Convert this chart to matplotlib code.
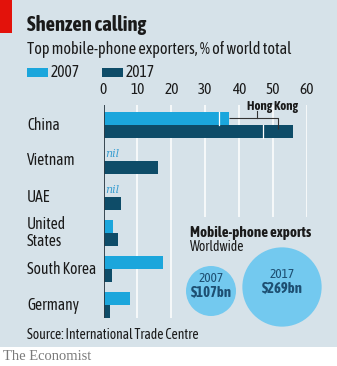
import matplotlib
matplotlib.use("Agg")
import matplotlib.pyplot as plt
from matplotlib.patches import Rectangle, Circle
import numpy as np

# Data: share of world mobile-phone exports, %
countries = ["China", "Vietnam", "UAE", "United\nStates", "South Korea", "Germany"]
share_2007 = [34, 0, 0, 2.8, 17.5, 7.8]
share_2017 = [47, 16, 5.2, 4.3, 2.5, 1.9]
hong_kong_2007 = 3
hong_kong_2017 = 9
nil_rows = ["Vietnam", "UAE"]
x_ticks = [0, 10, 20, 30, 40, 50, 60]
world_exports_years = ["2007", "2017"]
world_exports_bn = [107, 269]

W, H = 337, 366
BG = "#d6e2e9"
LIGHT = "#1ba6dc"
DARK = "#0e4c68"
BUBBLE = "#73c9ef"
TXT = "#1a1a1a"
plt.rcParams["font.family"] = ["Asap Condensed", "Lato", "DejaVu Sans"]

fig = plt.figure(figsize=(W / 100, H / 100), dpi=100)
fig.patch.set_facecolor("white")


def fx(x):
    return x / W


def fy(y):
    return 1 - y / H


# panel background and red tag
fig.patches.append(Rectangle((0, fy(347)), 1, 1 - fy(347), transform=fig.transFigure,
                             facecolor=BG, edgecolor="none", zorder=-10))
fig.patches.append(Rectangle((0, fy(33)), fx(12), 1 - fy(33), transform=fig.transFigure,
                             facecolor="#e3120b", edgecolor="none", zorder=-5))

fig.text(fx(27), fy(25), "Shenzen calling", fontsize=14.8, fontweight="bold",
         color=TXT, va="center", ha="left")
fig.text(fx(27), fy(50), "Top mobile-phone exporters, % of world total", fontsize=11.6,
         color=TXT, va="center", ha="left")

# legend
fig.patches.append(Rectangle((fx(27), fy(77)), fx(21), fy(68) - fy(77), transform=fig.transFigure,
                             facecolor=LIGHT, edgecolor="none", zorder=-5))
fig.text(fx(51), fy(72.5), "2007", fontsize=11.2, color=TXT, va="center", ha="left")
fig.patches.append(Rectangle((fx(102), fy(77)), fx(21), fy(68) - fy(77), transform=fig.transFigure,
                             facecolor=DARK, edgecolor="none", zorder=-5))
fig.text(fx(126), fy(72.5), "2017", fontsize=11.2, color=TXT, va="center", ha="left")

# main bar chart
ax_l, ax_r, ax_t, ax_b = 103.5, 307, 105, 318
ax = fig.add_axes([fx(ax_l), fy(ax_b), fx(ax_r - ax_l), fy(ax_t) - fy(ax_b)])
ax.set_facecolor("none")
row_px = 36.0
first_center = 125.0
ax.set_xlim(0, 60)
ax.set_ylim((ax_b - first_center) / row_px, (ax_t - first_center) / row_px)

y = np.arange(len(countries))
bh = 13 / row_px
off = bh / 2

for xt in x_ticks[1:]:
    ax.axvline(xt, color="white", lw=1.1, zorder=1)

ax.barh(y - off, share_2007, height=bh, color=LIGHT, zorder=2)
ax.barh(y + off, share_2017, height=bh, color=DARK, zorder=2)
# Hong Kong stacked on China, split by a thin white line
ax.barh(y[0] - off, hong_kong_2007, left=share_2007[0], height=bh, color=LIGHT, zorder=2)
ax.barh(y[0] + off, hong_kong_2017, left=share_2017[0], height=bh, color=DARK, zorder=2)
ax.plot([share_2007[0]] * 2, [-off - bh / 2, -off + bh / 2], color="white", lw=0.9, zorder=3)
ax.plot([share_2017[0]] * 2, [off - bh / 2, off + bh / 2], color="white", lw=0.9, zorder=3)

ax.axvline(0, color="#2b3a44", lw=1.3, zorder=4)

# Hong Kong bracket
hk_end_2007 = share_2007[0] + hong_kong_2007
hk_mid_2017 = share_2017[0] + hong_kong_2017 / 2
ax.plot([hk_end_2007, hk_mid_2017, hk_mid_2017], [-off, -off, 0.1],
        color="#333333", lw=0.8, zorder=5, solid_capstyle="butt")
ax.plot([45.4, 45.4], [-off - 0.2, -off], color="#333333", lw=0.8, zorder=5)
ax.text(49.8, -0.5, "Hong Kong", fontsize=9.3, fontweight="bold", color=TXT,
        ha="center", va="center", zorder=6)

for name in nil_rows:
    i = countries.index(name)
    ax.text(0.4, i - off, "nil", fontsize=8, style="italic", family="DejaVu Serif",
            color="#3a9fd2", ha="left", va="center", zorder=6)

ax.set_yticks(y)
ax.set_yticklabels([])
for i, c in enumerate(countries):
    fig.text(fx(27), fy(first_center + row_px * i), c, fontsize=11.2, color=TXT,
             ha="left", va="center", linespacing=0.95)

ax.xaxis.tick_top()
ax.set_xticks(x_ticks)
ax.set_xticklabels([str(t) for t in x_ticks], fontsize=11, color=TXT)
ax.tick_params(axis="x", length=0, pad=6)
ax.tick_params(axis="y", length=0)
for s in ax.spines.values():
    s.set_visible(False)

# inset: worldwide exports bubbles (pixel units)
ix0, ix1, iy0, iy1 = 183, 337, 217, 330
bx = fig.add_axes([fx(ix0), fy(iy1), fx(ix1 - ix0), fy(iy0) - fy(iy1)])
bx.set_xlim(ix0, ix1)
bx.set_ylim(iy1, iy0)
bx.axis("off")
bx.add_patch(Rectangle((ix0, iy0), ix1 - ix0, iy1 - iy0, facecolor=BG, edgecolor="none", zorder=0))
scale = 25 / np.sqrt(world_exports_bn[0])
centers = [(211, 291), (282, 287)]
for (cx, cy), yr, v in zip(centers, world_exports_years, world_exports_bn):
    r = scale * np.sqrt(v)
    bx.add_patch(Circle((cx, cy), r, facecolor=BUBBLE, edgecolor="none", zorder=1))
    bx.text(cx, cy - 12, yr, fontsize=9.5, color="#1d4f72", ha="center", va="center", zorder=2)
    bx.text(cx, cy + 2, f"${v}bn", fontsize=10.5, fontweight="bold", color="#1d4f72",
            ha="center", va="center", zorder=2)
bx.text(190, 233, "Mobile-phone exports", fontsize=10.8, fontweight="bold", color=TXT,
        ha="left", va="center", zorder=2)
bx.text(190, 247, "Worldwide", fontsize=9.8, color=TXT, ha="left", va="center", zorder=2)

fig.text(fx(27), fy(335), "Source: International Trade Centre", fontsize=9.8, color=TXT,
         ha="left", va="center")
fig.text(fx(3), fy(357), "The Economist", fontsize=10.5, family="Liberation Serif",
         color="#7a7a7a", ha="left", va="center")

fig.savefig("out.png", dpi=100, facecolor=fig.get_facecolor())
